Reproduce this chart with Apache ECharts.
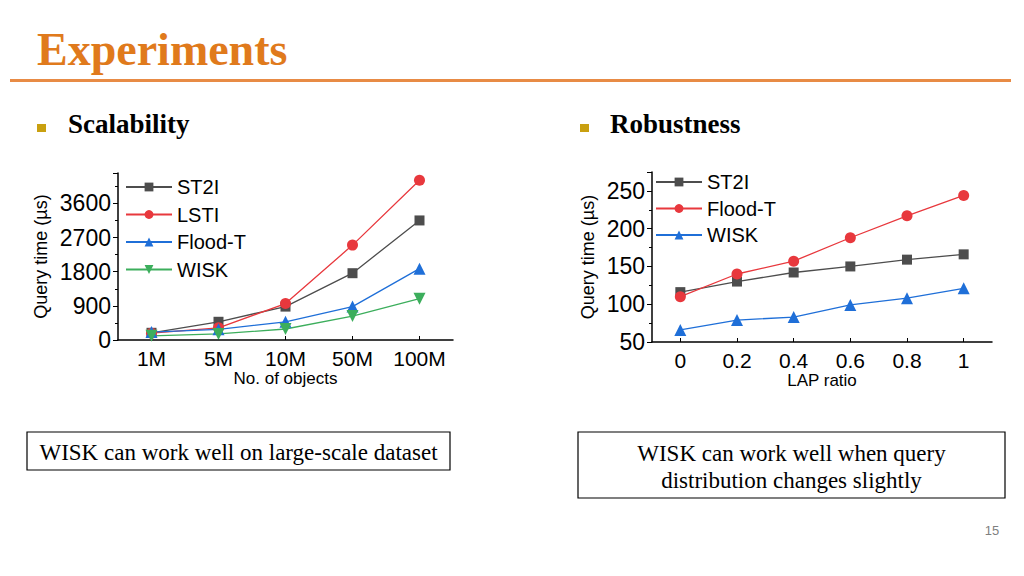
<!DOCTYPE html>
<html>
<head>
<meta charset="utf-8">
<script src="https://cdn.jsdelivr.net/npm/echarts@6/dist/echarts.min.js"></script>
<style>
html,body{margin:0;padding:0;background:#fff;}
#c{width:1024px;height:576px;}
</style>
</head>
<body>
<div id="c"></div>
<script>
// ---- data ----
const scaleCategories = ['1M', '5M', '10M', '50M', '100M'];
const scaleST2I   = [190, 480, 880, 1760, 3150];
const scaleLSTI   = [180, 320, 960, 2500, 4210];
const scaleFloodT = [210, 280, 480, 880, 1880];
const scaleWISK   = [110, 160, 290, 630, 1090];

const lapCategories = ['0', '0.2', '0.4', '0.6', '0.8', '1'];
const lapST2I   = [116, 130, 142, 150, 159, 166];
const lapFloodT = [110, 140, 157, 188, 217, 244];
const lapWISK   = [66, 79, 83, 99, 108, 121];

const leftTicks = [0, 900, 1800, 2700, 3600];
const rightTicks = [50, 100, 150, 200, 250];

// ---- styles ----
const GREY = '#4d4d4d', RED = '#e8383d', BLUE = '#1f6fd8', GREEN = '#3cae5c';
const axisFont = 'Liberation Sans';
const serif = 'Liberation Serif';

function mkSeries(name, data, color, symbol, size, idx, rotate) {
  return {
    name: name, type: 'line', data: data,
    xAxisIndex: idx, yAxisIndex: idx,
    symbol: symbol, symbolSize: size, symbolRotate: rotate || 0,
    lineStyle: {color: color, width: 1.3},
    itemStyle: {color: color},
    animation: false
  };
}

function yAxis(idx, min, max, interval, ticks, gap) {
  return {
    type: 'value', gridIndex: idx, min: min, max: max, interval: interval,
    name: 'Query time (\u00b5s)', nameLocation: 'middle', nameGap: gap,
    nameTextStyle: {fontFamily: axisFont, fontSize: 18, color: '#000'},
    axisLine: {show: true, lineStyle: {color: '#000', width: 1.5}},
    axisTick: {show: true, inside: false, length: 5, lineStyle: {color: '#000'}},
    minorTick: {show: true, splitNumber: 2, length: 3, lineStyle: {color: '#000'}},
    splitLine: {show: false},
    axisLabel: {
      fontFamily: axisFont, fontSize: 23, color: '#000', margin: 7,
      formatter: v => ticks.indexOf(v) >= 0 ? String(v) : ''
    }
  };
}

function xAxis(idx, cats, name) {
  return {
    type: 'category', gridIndex: idx, data: cats, boundaryGap: true,
    name: name, nameLocation: 'middle', nameGap: 29,
    nameTextStyle: {fontFamily: axisFont, fontSize: 17, color: '#000'},
    axisLine: {show: true, lineStyle: {color: '#000', width: 1.5}},
    axisTick: {show: true, inside: true, alignWithLabel: true, interval: 0, length: 4, lineStyle: {color: '#000'}},
    splitLine: {show: false},
    axisLabel: {fontFamily: axisFont, fontSize: 21, color: '#000', margin: 8, interval: 0, hideOverlap: false}
  };
}

function txt(x, y, text, size, weight, color, align) {
  return {type: 'text', x: x, y: y, style: {
    text: text, fontFamily: serif, fontSize: size, fontWeight: weight,
    fill: color, textAlign: align || 'left', textVerticalAlign: 'middle'
  }};
}

const chart = echarts.init(document.getElementById('c'), null, {renderer: 'svg'});
chart.setOption({
  backgroundColor: '#fff',
  animation: false,
  grid: [
    {left: 118, right: 571, top: 173, bottom: 236},
    {left: 652, right: 32, top: 172, bottom: 234}
  ],
  xAxis: [xAxis(0, scaleCategories, 'No. of objects'), xAxis(1, lapCategories, 'LAP ratio')],
  yAxis: [yAxis(0, 0, 4400, 900, leftTicks, 68), yAxis(1, 50, 275, 50, rightTicks, 55)],
  legend: [
    {
      left: 120, top: 172, orient: 'vertical', itemWidth: 46, itemHeight: 11, itemGap: 7.5,
      textStyle: {fontFamily: axisFont, fontSize: 20, color: '#000', lineHeight: 20},
      data: ['ST2I', 'LSTI', 'Flood-T', 'WISK']
    },
    {
      left: 650, top: 167, orient: 'vertical', itemWidth: 46, itemHeight: 11, itemGap: 6.5,
      textStyle: {fontFamily: axisFont, fontSize: 20, color: '#000', lineHeight: 20},
      data: ['ST2I ', 'Flood-T ', 'WISK ']
    }
  ],
  series: [
    mkSeries('ST2I', scaleST2I, GREY, 'rect', 10, 0),
    mkSeries('LSTI', scaleLSTI, RED, 'circle', 11, 0),
    mkSeries('Flood-T', scaleFloodT, BLUE, 'triangle', 12, 0),
    mkSeries('WISK', scaleWISK, GREEN, 'triangle', 12, 0, 180),
    mkSeries('ST2I ', lapST2I, GREY, 'rect', 10, 1),
    mkSeries('Flood-T ', lapFloodT, RED, 'circle', 11, 1),
    mkSeries('WISK ', lapWISK, BLUE, 'triangle', 12, 1)
  ],
  graphic: [
    txt(37, 49, 'Experiments', 46, 'bold', '#e07a1c'),
    {type: 'rect', shape: {x: 10, y: 79, width: 1001, height: 3}, style: {fill: '#e88b45'}},
    {type: 'rect', shape: {x: 37, y: 124, width: 9, height: 8}, style: {fill: '#c9a010'}},
    txt(68, 124, 'Scalability', 27, 'bold', '#000'),
    {type: 'rect', shape: {x: 580, y: 124, width: 9, height: 8}, style: {fill: '#c9a010'}},
    txt(610, 124, 'Robustness', 27, 'bold', '#000'),
    {type: 'rect', shape: {x: 27, y: 432, width: 423, height: 38}, style: {fill: 'none', stroke: '#000', lineWidth: 1.2}},
    txt(238.5, 452, 'WISK can work well on large-scale dataset', 23, 'normal', '#000', 'center'),
    {type: 'rect', shape: {x: 578, y: 432, width: 427, height: 66}, style: {fill: 'none', stroke: '#000', lineWidth: 1.2}},
    txt(791.5, 453, 'WISK can work well when query', 23, 'normal', '#000', 'center'),
    txt(791.5, 480, 'distribution changes slightly', 23, 'normal', '#000', 'center'),
    {type: 'text', x: 992, y: 530, style: {text: '15', fontFamily: axisFont, fontSize: 13, fill: '#7f7f7f', textAlign: 'center', textVerticalAlign: 'middle'}}
  ]
});
</script>
</body>
</html>
